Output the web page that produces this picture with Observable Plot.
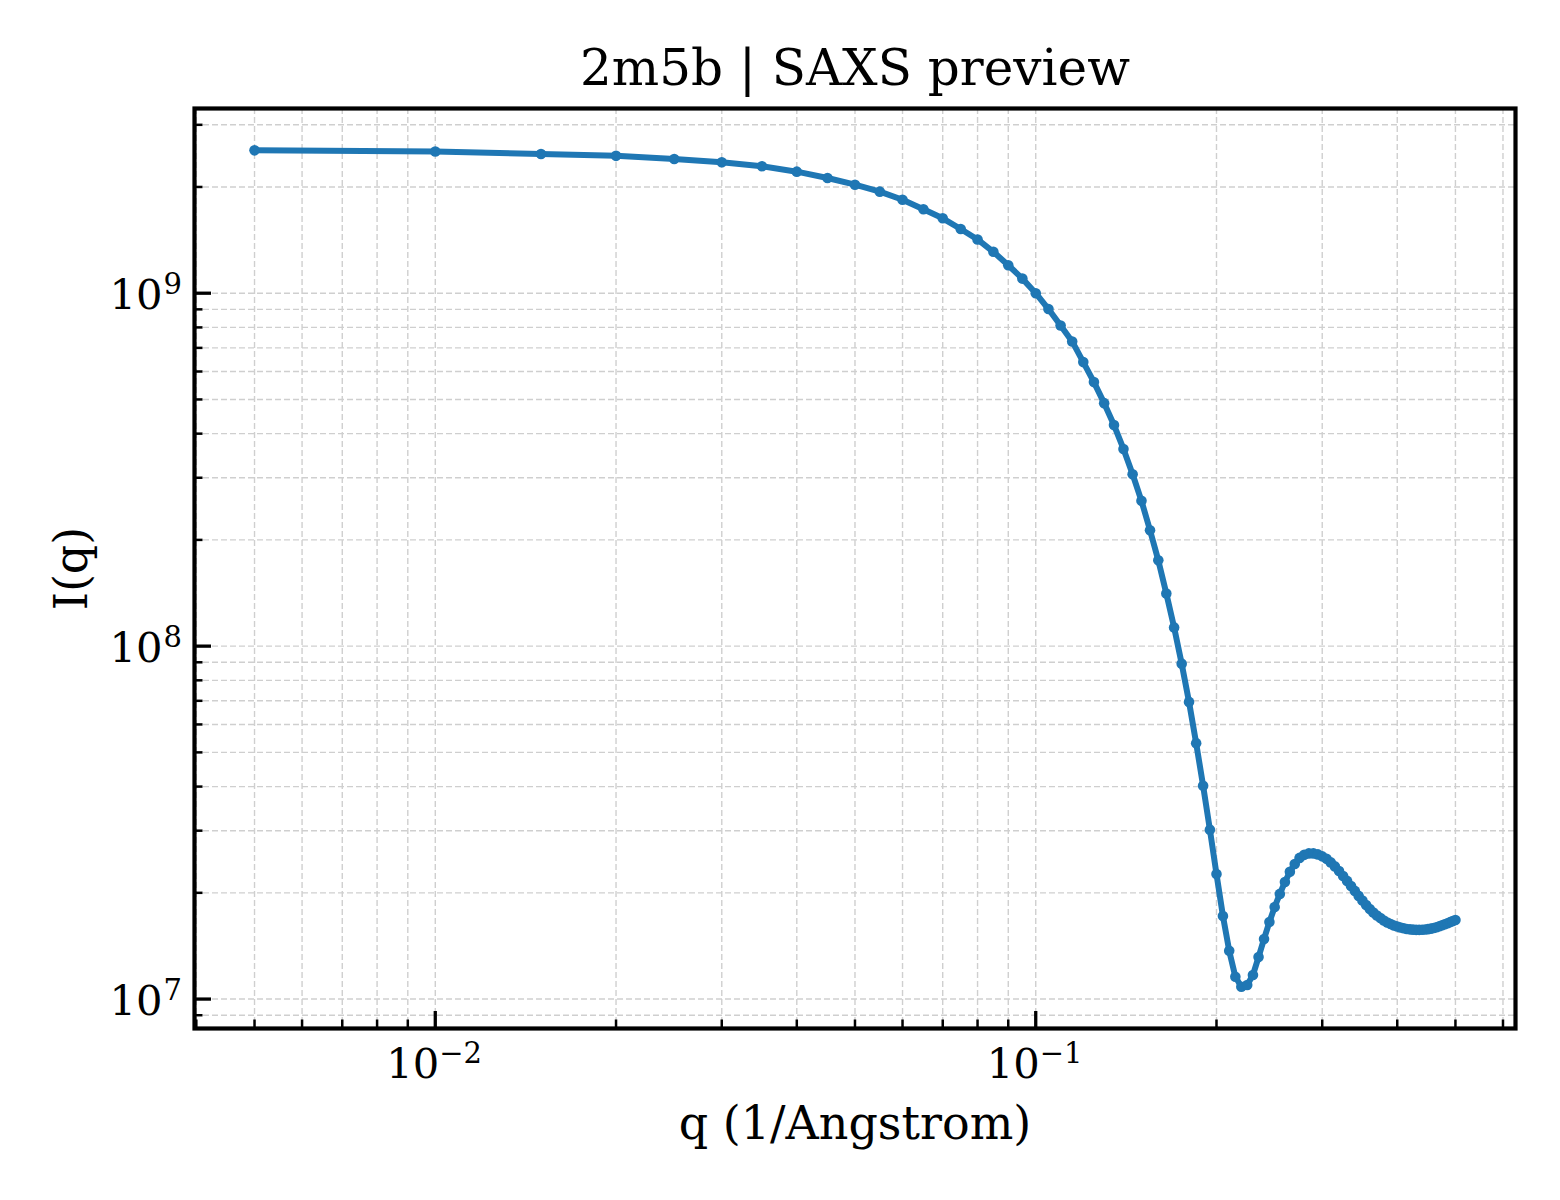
<!DOCTYPE html>
<html>
<head>
<meta charset="utf-8">
<script src="https://cdn.jsdelivr.net/npm/d3@7"></script>
<script src="https://cdn.jsdelivr.net/npm/@observablehq/plot@0.6"></script>
<style>
  body { margin: 0; background: #ffffff; }
  #chart svg { display: block; }
</style>
</head>
<body>
<div id="chart"></div>
<script>
// ---- data ----
const q = [
  0.005, 0.010, 0.015, 0.020, 0.025, 0.030, 0.035, 0.040, 0.045, 0.050,
  0.055, 0.060, 0.065, 0.070, 0.075, 0.080, 0.085, 0.090, 0.095, 0.100,
  0.105, 0.110, 0.115, 0.120, 0.125, 0.130, 0.135, 0.140, 0.145, 0.150,
  0.155, 0.160, 0.165, 0.170, 0.175, 0.180, 0.185, 0.190, 0.195, 0.200,
  0.205, 0.210, 0.215, 0.220, 0.225, 0.230, 0.235, 0.240, 0.245, 0.250,
  0.255, 0.260, 0.265, 0.270, 0.275, 0.280, 0.285, 0.290, 0.295, 0.300,
  0.305, 0.310, 0.315, 0.320, 0.325, 0.330, 0.335, 0.340, 0.345, 0.350,
  0.355, 0.360, 0.365, 0.370, 0.375, 0.380, 0.385, 0.390, 0.395, 0.400,
  0.405, 0.410, 0.415, 0.420, 0.425, 0.430, 0.435, 0.440, 0.445, 0.450,
  0.455, 0.460, 0.465, 0.470, 0.475, 0.480, 0.485, 0.490, 0.495, 0.500
];
const intensity = [
  2.54e9, 2.52e9, 2.48e9, 2.45e9, 2.40e9, 2.35e9, 2.29e9, 2.21e9, 2.12e9, 2.03e9,
  1.94e9, 1.84e9, 1.73e9, 1.63e9, 1.52e9, 1.42e9, 1.31e9, 1.20e9, 1.10e9, 1.00e9,
  9.02e8, 8.10e8, 7.30e8, 6.38e8, 5.60e8, 4.88e8, 4.23e8, 3.62e8, 3.07e8, 2.58e8,
  2.13e8, 1.75e8, 1.41e8, 1.13e8, 8.92e7, 6.95e7, 5.31e7, 4.02e7, 3.02e7, 2.26e7,
  1.72e7, 1.37e7, 1.157e7, 1.084e7, 1.096e7, 1.170e7, 1.315e7, 1.480e7, 1.654e7, 1.824e7,
  1.986e7, 2.147e7, 2.293e7, 2.415e7, 2.512e7, 2.562e7, 2.587e7, 2.587e7, 2.570e7, 2.537e7,
  2.496e7, 2.439e7, 2.376e7, 2.307e7, 2.233e7, 2.162e7, 2.092e7, 2.025e7, 1.960e7, 1.903e7,
  1.848e7, 1.800e7, 1.759e7, 1.725e7, 1.697e7, 1.670e7, 1.648e7, 1.632e7, 1.616e7, 1.606e7,
  1.595e7, 1.587e7, 1.580e7, 1.576e7, 1.573e7, 1.571e7, 1.571e7, 1.572e7, 1.574e7, 1.578e7,
  1.583e7, 1.590e7, 1.598e7, 1.608e7, 1.619e7, 1.629e7, 1.640e7, 1.652e7, 1.663e7, 1.675e7
];

// ---- tick values and labels ----
const xMajor = [0.01, 0.1];
const xMajorExp = ["\u22122", "\u22121"];
const xMinor = [0.004, 0.005, 0.006, 0.007, 0.008, 0.009,
                0.02, 0.03, 0.04, 0.05, 0.06, 0.07, 0.08, 0.09,
                0.2, 0.3, 0.4, 0.5, 0.6];
const yMajor = [1e7, 1e8, 1e9];
const yMajorExp = ["7", "8", "9"];
const yMinor = [9e6,
                2e7, 3e7, 4e7, 5e7, 6e7, 7e7, 8e7, 9e7,
                2e8, 3e8, 4e8, 5e8, 6e8, 7e8, 8e8, 9e8,
                2e9, 3e9];

const titleText = "2m5b | SAXS preview";
const xLabel = "q (1/Angstrom)";
const yLabel = "I(q)";

// ---- build ----
const data = q.map((d, i) => ({q: d, I: intensity[i]}));
const xMajorRows = xMajor.map((v, i) => ({v, e: xMajorExp[i]}));
const yMajorRows = yMajor.map((v, i) => ({v, e: yMajorExp[i]}));

const W = 1560, H = 1200;
const mL = 194, mR = 45, mT = 108, mB = 172;
const innerW = W - mL - mR, innerH = H - mT - mB;
const majorLen = 17, minorLen = 8.5;
const serif = "DejaVu Serif";
const blue = "#1f77b4";
const gridStyle = {stroke: "#cfcfcf", strokeWidth: 1.4, strokeDasharray: "6,3", strokeOpacity: 1};
const majorTick = {stroke: "black", strokeWidth: 3.3};
const minorTick = {stroke: "black", strokeWidth: 2.5};

const chart = Plot.plot({
  width: W,
  height: H,
  marginLeft: mL,
  marginRight: mR,
  marginTop: mT,
  marginBottom: mB,
  style: {fontFamily: serif, background: "white", color: "black"},
  x: {type: "log", domain: [0.003972, 0.6295], axis: null},
  y: {type: "log", domain: [8.253e6, 3.337e9], axis: null},
  marks: [
    Plot.gridX(xMinor.concat(xMajor), gridStyle),
    Plot.gridY(yMinor.concat(yMajor), gridStyle),

    Plot.line(data, {x: "q", y: "I", stroke: blue, strokeWidth: 6}),
    Plot.dot(data, {x: "q", y: "I", r: 5.3, fill: blue, stroke: "none"}),

    // inward ticks, bottom & left only
    Plot.tickX(xMajor, {insetTop: innerH - majorLen, ...majorTick}),
    Plot.tickX(xMinor, {insetTop: innerH - minorLen, ...minorTick}),
    Plot.tickY(yMajor, {insetRight: innerW - majorLen, ...majorTick}),
    Plot.tickY(yMinor, {insetRight: innerW - minorLen, ...minorTick}),

    Plot.frame({stroke: "black", strokeWidth: 4.2}),

    // x tick labels 10^e
    Plot.text(xMajorRows, {x: "v", text: () => "10", frameAnchor: "bottom", textAnchor: "end",
      lineAnchor: "bottom", dx: 4, dy: 49, fontSize: 41.7, fill: "black"}),
    Plot.text(xMajorRows, {x: "v", text: "e", frameAnchor: "bottom", textAnchor: "start",
      lineAnchor: "bottom", dx: 4, dy: 34, fontSize: 29, fill: "black"}),
    // y tick labels 10^e
    Plot.text(yMajorRows, {y: "v", text: () => "10", frameAnchor: "left", textAnchor: "end",
      lineAnchor: "bottom", dx: -32, dy: 16, fontSize: 41.7, fill: "black"}),
    Plot.text(yMajorRows, {y: "v", text: "e", frameAnchor: "left", textAnchor: "start",
      lineAnchor: "bottom", dx: -31, dy: 1, fontSize: 29, fill: "black"}),

    // title and axis labels
    Plot.text([titleText], {frameAnchor: "top", textAnchor: "middle", lineAnchor: "bottom", dy: -24, fontSize: 50, fill: "black"}),
    Plot.text([xLabel], {frameAnchor: "bottom", textAnchor: "middle", lineAnchor: "bottom", dy: 110, fontSize: 46, fill: "black"}),
    Plot.text([yLabel], {frameAnchor: "left", textAnchor: "middle", lineAnchor: "bottom", rotate: -90, dx: -108, fontSize: 46, fill: "black"})
  ]
});

document.getElementById("chart").appendChild(chart);
</script>
</body>
</html>
